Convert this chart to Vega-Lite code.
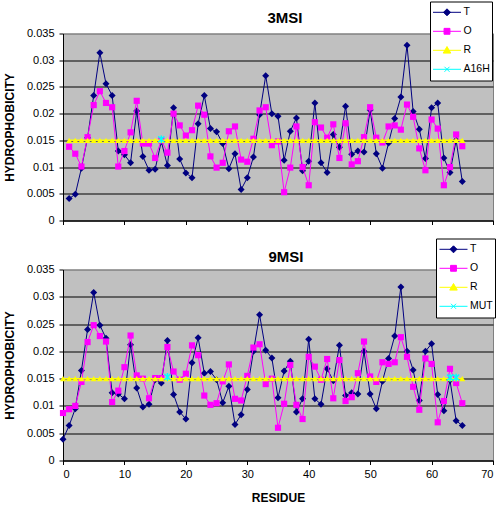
{
  "$schema": "https://vega.github.io/schema/vega-lite/v6.json",
  "autosize": {"type": "pad"},
  "padding": {"left": 2, "top": 0.5, "right": 0, "bottom": 0},
  "background": "white",
  "datasets": {
    "top": [
      {"r":1,"T":0.0041,"O":0.0138,"R":0.015},{"r":2,"T":0.0049,"O":0.0125,"R":0.015},{"r":3,"T":0.0098,"O":0.0101,"R":0.015},{"r":4,"T":0.0155,"O":0.0156,"R":0.015},{"r":5,"T":0.0234,"O":0.0216,"R":0.015},
      {"r":6,"T":0.0314,"O":0.0242,"R":0.015},{"r":7,"T":0.0256,"O":0.0220,"R":0.015},{"r":8,"T":0.0234,"O":0.0212,"R":0.015},{"r":9,"T":0.0130,"O":0.0101,"R":0.015},{"r":10,"T":0.0123,"O":0.0130,"R":0.015},
      {"r":11,"T":0.0108,"O":0.0165,"R":0.015},{"r":12,"T":0.0205,"O":0.0224,"R":0.015},{"r":13,"T":0.0120,"O":0.0144,"R":0.015},{"r":14,"T":0.0094,"O":0.0144,"R":0.015},{"r":15,"T":0.0096,"O":0.0117,"R":0.015},
      {"r":16,"T":0.0148,"O":0.0150,"R":0.015,"A16H":0.0152},{"r":17,"T":0.0103,"O":0.0127,"R":0.015},{"r":18,"T":0.0211,"O":0.0200,"R":0.015},{"r":19,"T":0.0115,"O":0.0178,"R":0.015},{"r":20,"T":0.0089,"O":0.0159,"R":0.015},
      {"r":21,"T":0.0080,"O":0.0169,"R":0.015},{"r":22,"T":0.0181,"O":0.0215,"R":0.015},{"r":23,"T":0.0234,"O":0.0198,"R":0.015},{"r":24,"T":0.0172,"O":0.0120,"R":0.015},{"r":25,"T":0.0166,"O":0.0099,"R":0.015},
      {"r":26,"T":0.0144,"O":0.0108,"R":0.015},{"r":27,"T":0.0097,"O":0.0167,"R":0.015},{"r":28,"T":0.0125,"O":0.0176,"R":0.015},{"r":29,"T":0.0058,"O":0.0114,"R":0.015},{"r":30,"T":0.0080,"O":0.0110,"R":0.015},
      {"r":31,"T":0.0119,"O":0.0153,"R":0.015},{"r":32,"T":0.0198,"O":0.0206,"R":0.015},{"r":33,"T":0.0271,"O":0.0212,"R":0.015},{"r":34,"T":0.0200,"O":0.0141,"R":0.015},{"r":35,"T":0.0195,"O":0.0148,"R":0.015},
      {"r":36,"T":0.0113,"O":0.0053,"R":0.015},{"r":37,"T":0.0167,"O":0.0099,"R":0.015},{"r":38,"T":0.0192,"O":0.0176,"R":0.015},{"r":39,"T":0.0093,"O":0.0100,"R":0.015},{"r":40,"T":0.0111,"O":0.0066,"R":0.015},
      {"r":41,"T":0.0220,"O":0.0184,"R":0.015},{"r":42,"T":0.0108,"O":0.0174,"R":0.015},{"r":43,"T":0.0090,"O":0.0155,"R":0.015},{"r":44,"T":0.0161,"O":0.0180,"R":0.015},{"r":45,"T":0.0137,"O":0.0117,"R":0.015},
      {"r":46,"T":0.0214,"O":0.0182,"R":0.015},{"r":47,"T":0.0124,"O":0.0105,"R":0.015},{"r":48,"T":0.0130,"O":0.0111,"R":0.015},{"r":49,"T":0.0128,"O":0.0156,"R":0.015},{"r":50,"T":0.0207,"O":0.0212,"R":0.015},
      {"r":51,"T":0.0125,"O":0.0155,"R":0.015},{"r":52,"T":0.0098,"O":0.0146,"R":0.015},{"r":53,"T":0.0145,"O":0.0176,"R":0.015},{"r":54,"T":0.0191,"O":0.0178,"R":0.015},{"r":55,"T":0.0231,"O":0.0170,"R":0.015},
      {"r":56,"T":0.0328,"O":0.0217,"R":0.015},{"r":57,"T":0.0204,"O":0.0194,"R":0.015},{"r":58,"T":0.0171,"O":0.0135,"R":0.015},{"r":59,"T":0.0116,"O":0.0094,"R":0.015},{"r":60,"T":0.0211,"O":0.0189,"R":0.015},
      {"r":61,"T":0.0220,"O":0.0172,"R":0.015},{"r":62,"T":0.0117,"O":0.0066,"R":0.015},{"r":63,"T":0.0090,"O":0.0100,"R":0.015},{"r":64,"T":0.0150,"O":0.0161,"R":0.015},{"r":65,"T":0.0073,"O":0.0139,"R":0.015}
    ],
    "bottom": [
      {"r":0,"T":0.0039,"O":0.0087,"R":0.015},{"r":1,"T":0.0064,"O":0.0094,"R":0.015},{"r":2,"T":0.0095,"O":0.0100,"R":0.015},{"r":3,"T":0.0165,"O":0.0144,"R":0.015},{"r":4,"T":0.0240,"O":0.0217,"R":0.015},
      {"r":5,"T":0.0308,"O":0.0248,"R":0.015},{"r":6,"T":0.0248,"O":0.0228,"R":0.015},{"r":7,"T":0.0224,"O":0.0218,"R":0.015},{"r":8,"T":0.0124,"O":0.0107,"R":0.015},{"r":9,"T":0.0122,"O":0.0128,"R":0.015},
      {"r":10,"T":0.0113,"O":0.0171,"R":0.015},{"r":11,"T":0.0212,"O":0.0229,"R":0.015},{"r":12,"T":0.0133,"O":0.0156,"R":0.015},{"r":13,"T":0.0098,"O":0.0150,"R":0.015},{"r":14,"T":0.0103,"O":0.0114,"R":0.015},
      {"r":15,"T":0.0148,"O":0.0151,"R":0.015},{"r":16,"T":0.0142,"O":0.0151,"R":0.015},{"r":17,"T":0.0220,"O":0.0208,"R":0.015,"MUT":0.0153},{"r":18,"T":0.0121,"O":0.0163,"R":0.015},{"r":19,"T":0.0089,"O":0.0148,"R":0.015},
      {"r":20,"T":0.0076,"O":0.0159,"R":0.015},{"r":21,"T":0.0179,"O":0.0211,"R":0.015},{"r":22,"T":0.0225,"O":0.0193,"R":0.015},{"r":23,"T":0.0160,"O":0.0119,"R":0.015},{"r":24,"T":0.0163,"O":0.0102,"R":0.015},
      {"r":25,"T":0.0148,"O":0.0105,"R":0.015},{"r":26,"T":0.0106,"O":0.0145,"R":0.015},{"r":27,"T":0.0136,"O":0.0176,"R":0.015},{"r":28,"T":0.0066,"O":0.0113,"R":0.015},{"r":29,"T":0.0084,"O":0.0110,"R":0.015},
      {"r":30,"T":0.0130,"O":0.0155,"R":0.015},{"r":31,"T":0.0200,"O":0.0207,"R":0.015},{"r":32,"T":0.0267,"O":0.0213,"R":0.015},{"r":33,"T":0.0202,"O":0.0140,"R":0.015},{"r":34,"T":0.0188,"O":0.0150,"R":0.015},
      {"r":35,"T":0.0115,"O":0.0060,"R":0.015},{"r":36,"T":0.0164,"O":0.0104,"R":0.015},{"r":37,"T":0.0182,"O":0.0175,"R":0.015},{"r":38,"T":0.0089,"O":0.0102,"R":0.015},{"r":39,"T":0.0113,"O":0.0076,"R":0.015},
      {"r":40,"T":0.0222,"O":0.0190,"R":0.015},{"r":41,"T":0.0113,"O":0.0172,"R":0.015},{"r":42,"T":0.0103,"O":0.0148,"R":0.015},{"r":43,"T":0.0168,"O":0.0186,"R":0.015},{"r":44,"T":0.0146,"O":0.0114,"R":0.015},
      {"r":45,"T":0.0211,"O":0.0184,"R":0.015},{"r":46,"T":0.0119,"O":0.0109,"R":0.015},{"r":47,"T":0.0124,"O":0.0116,"R":0.015},{"r":48,"T":0.0122,"O":0.0160,"R":0.015},{"r":49,"T":0.0200,"O":0.0218,"R":0.015},
      {"r":50,"T":0.0122,"O":0.0154,"R":0.015},{"r":51,"T":0.0095,"O":0.0144,"R":0.015},{"r":52,"T":0.0145,"O":0.0180,"R":0.015},{"r":53,"T":0.0187,"O":0.0177,"R":0.015},{"r":54,"T":0.0228,"O":0.0180,"R":0.015},
      {"r":55,"T":0.0318,"O":0.0226,"R":0.015},{"r":56,"T":0.0200,"O":0.0190,"R":0.015},{"r":57,"T":0.0166,"O":0.0135,"R":0.015},{"r":58,"T":0.0110,"O":0.0093,"R":0.015},{"r":59,"T":0.0200,"O":0.0187,"R":0.015},
      {"r":60,"T":0.0214,"O":0.0177,"R":0.015},{"r":61,"T":0.0121,"O":0.0070,"R":0.015},{"r":62,"T":0.0091,"O":0.0109,"R":0.015},{"r":63,"T":0.0147,"O":0.0168,"R":0.015,"MUT":0.0152},{"r":64,"T":0.0073,"O":0.0142,"R":0.015,"MUT":0.0152},
      {"r":65,"T":0.0064,"O":0.0105,"R":0.015}
    ]
  },
  "vconcat": [
    {
      "width": 430,
      "height": 187,
      "data": {"name": "top"},
      "transform": [
        {"fold": ["T", "O", "R", "A16H"], "as": ["series", "value"]},
        {"filter": "isValid(datum.value)"}
      ],
      "title": {"text": "3MSI", "fontSize": 15, "fontWeight": "bold", "baseline": "alphabetic", "offset": 8, "dx": 7, "dy": 45, "color": "black"},
      "encoding": {
        "x": {"field": "r", "type": "quantitative", "scale": {"domain": [0, 70], "nice": false},
          "axis": {"values": [0, 10, 20, 30, 40, 50, 60, 70], "labels": false, "title": null, "tickSize": 4, "grid": false, "domainColor": "black", "tickColor": "black"}},
        "y": {"field": "value", "type": "quantitative", "scale": {"domain": [0, 0.035], "nice": false},
          "axis": {"values": [0, 0.005, 0.01, 0.015, 0.02, 0.025, 0.03, 0.035], "format": "~g", "title": "HYDROPHOBICITY", "titleFontSize": 12, "titleFontWeight": "bold", "titleX": -50, "titleBaseline": "alphabetic", "titleColor": "black", "labelFontSize": 11, "labelColor": "black", "labelPadding": 5, "tickSize": 4, "grid": true, "gridColor": {"condition": {"test": "datum.value > 0.034", "value": "#808080"}, "value": "black"}, "gridOpacity": 1, "domainColor": "black", "tickColor": "black"}},
        "color": {"field": "series", "type": "nominal",
          "scale": {"domain": ["T", "O", "R", "A16H"], "range": ["#000080", "#FF00FF", "#FFFF00", "#00FFFF"]},
          "legend": {"orient": "none", "legendX": 367, "legendY": -32, "title": null, "fillColor": "white", "strokeColor": "black", "padding": 1.5, "symbolSize": 784, "symbolOffset": 1, "clipHeight": 18.6, "rowPadding": 0, "labelOffset": 2, "labelFontSize": 10.5, "labelColor": "black", "symbolStrokeWidth": 1,
            "encode": {"symbols": {"update": {
              "shape": {"signal": "datum.value === 'T' ? 'M-1,0L1,0M0,-0.25L0.25,0L0,0.25L-0.25,0Z' : datum.value === 'O' ? 'M-1,0L1,0M-0.21,-0.21L0.21,-0.21L0.21,0.21L-0.21,0.21Z' : datum.value === 'R' ? 'M-1,0L1,0M0,-0.27L0.27,0.2L-0.27,0.2Z' : 'M-1,0L1,0M-0.18,-0.18L0.18,0.18M-0.18,0.18L0.18,-0.18'"},
              "fill": {"signal": "datum.value === 'T' ? '#000080' : datum.value === 'O' ? '#FF00FF' : datum.value === 'R' ? '#FFFF00' : 'transparent'"},
              "stroke": {"signal": "datum.value === 'T' ? '#000080' : datum.value === 'O' ? '#FF00FF' : datum.value === 'R' ? '#FFFF00' : '#00FFFF'"},
              "strokeWidth": {"value": 1},
              "opacity": {"value": 1}
            }}}}}
      },
      "layer": [
        {"transform": [{"filter": "datum.series === 'T'"}], "mark": {"type": "line", "strokeWidth": 1, "point": {"shape": "diamond", "filled": true, "size": 49, "opacity": 1}}},
        {"transform": [{"filter": "datum.series === 'O'"}], "mark": {"type": "line", "strokeWidth": 1, "point": {"shape": "square", "filled": true, "size": 38, "opacity": 1}}},
        {"transform": [{"filter": "datum.series === 'R'"}], "mark": {"type": "line", "strokeWidth": 1.5, "point": {"shape": "triangle-up", "filled": true, "size": 36, "opacity": 1}}},
        {"transform": [{"filter": "datum.series === 'A16H'"}], "mark": {"type": "point", "shape": "M-1,-1L1,1M-1,1L1,-1M0,-1.3L0,1.3", "filled": false, "size": 36, "strokeWidth": 1.5, "opacity": 1}}
      ]
    },
    {
      "width": 430,
      "height": 191,
      "data": {"name": "bottom"},
      "transform": [
        {"fold": ["T", "O", "R", "MUT"], "as": ["series", "value"]},
        {"filter": "isValid(datum.value)"}
      ],
      "title": {"text": "9MSI", "fontSize": 15, "fontWeight": "bold", "baseline": "alphabetic", "offset": 5, "dx": 8, "dy": 44, "color": "black"},
      "encoding": {
        "x": {"field": "r", "type": "quantitative", "scale": {"domain": [0, 70], "nice": false},
          "axis": {"values": [0, 10, 20, 30, 40, 50, 60, 70], "title": "RESIDUE", "titleFontSize": 12, "titleFontWeight": "bold", "titleBaseline": "alphabetic", "titleY": 41, "titleColor": "black", "labelFontSize": 11, "labelColor": "black", "labelPadding": 4, "tickSize": 4, "grid": false, "domainColor": "black", "tickColor": "black"}},
        "y": {"field": "value", "type": "quantitative", "scale": {"domain": [0, 0.035], "nice": false},
          "axis": {"values": [0, 0.005, 0.01, 0.015, 0.02, 0.025, 0.03, 0.035], "format": "~g", "title": "HYDROPHOBICITY", "titleFontSize": 12, "titleFontWeight": "bold", "titleX": -50, "titleBaseline": "alphabetic", "titleColor": "black", "labelFontSize": 11, "labelColor": "black", "labelPadding": 5, "tickSize": 4, "grid": true, "gridColor": {"condition": {"test": "datum.value > 0.034", "value": "#808080"}, "value": "black"}, "gridOpacity": 1, "domainColor": "black", "tickColor": "black"}},
        "color": {"field": "series", "type": "nominal",
          "scale": {"domain": ["T", "O", "R", "MUT"], "range": ["#000080", "#FF00FF", "#FFFF00", "#00FFFF"]},
          "legend": {"orient": "none", "legendX": 373, "legendY": -31, "title": null, "fillColor": "white", "strokeColor": "black", "padding": 1.5, "symbolSize": 784, "symbolOffset": 1.5, "clipHeight": 18.6, "rowPadding": 0, "labelOffset": 2, "labelFontSize": 10.5, "labelColor": "black", "symbolStrokeWidth": 1,
            "encode": {"symbols": {"update": {
              "shape": {"signal": "datum.value === 'T' ? 'M-1,0L1,0M0,-0.25L0.25,0L0,0.25L-0.25,0Z' : datum.value === 'O' ? 'M-1,0L1,0M-0.21,-0.21L0.21,-0.21L0.21,0.21L-0.21,0.21Z' : datum.value === 'R' ? 'M-1,0L1,0M0,-0.27L0.27,0.2L-0.27,0.2Z' : 'M-1,0L1,0M-0.18,-0.18L0.18,0.18M-0.18,0.18L0.18,-0.18'"},
              "fill": {"signal": "datum.value === 'T' ? '#000080' : datum.value === 'O' ? '#FF00FF' : datum.value === 'R' ? '#FFFF00' : 'transparent'"},
              "stroke": {"signal": "datum.value === 'T' ? '#000080' : datum.value === 'O' ? '#FF00FF' : datum.value === 'R' ? '#FFFF00' : '#00FFFF'"},
              "strokeWidth": {"value": 1},
              "opacity": {"value": 1}
            }}}}}
      },
      "layer": [
        {"transform": [{"filter": "datum.series === 'T'"}], "mark": {"type": "line", "strokeWidth": 1, "point": {"shape": "diamond", "filled": true, "size": 49, "opacity": 1}}},
        {"transform": [{"filter": "datum.series === 'O'"}], "mark": {"type": "line", "strokeWidth": 1, "point": {"shape": "square", "filled": true, "size": 38, "opacity": 1}}},
        {"transform": [{"filter": "datum.series === 'R'"}], "mark": {"type": "line", "strokeWidth": 1.5, "point": {"shape": "triangle-up", "filled": true, "size": 36, "opacity": 1}}},
        {"transform": [{"filter": "datum.series === 'MUT'"}], "mark": {"type": "point", "shape": "M-1,-1L1,1M-1,1L1,-1M0,-1.3L0,1.3", "filled": false, "size": 36, "strokeWidth": 1.5, "opacity": 1}}
      ]
    }
  ],
  "spacing": 49,
  "bounds": "flush",
  "resolve": {"scale": {"color": "independent"}, "legend": {"color": "independent"}},
  "config": {
    "font": "Liberation Sans",
    "view": {"fill": "#C0C0C0", "stroke": "#808080"},
    "axis": {"labelFont": "Liberation Sans", "titleFont": "Liberation Sans"},
    "legend": {"labelFont": "Liberation Sans"},
    "title": {"font": "Liberation Sans"}
  }
}
